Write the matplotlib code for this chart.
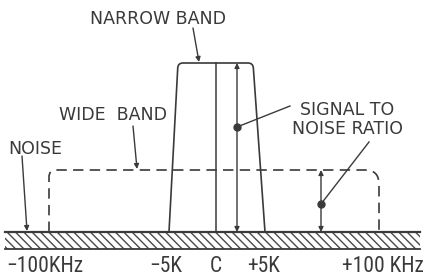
import matplotlib
matplotlib.use("Agg")
import matplotlib.pyplot as plt
import numpy as np
from matplotlib.path import Path
from matplotlib.patches import PathPatch, Rectangle
from matplotlib import font_manager

# ---- schematic data (diagram units: x = frequency position, y = signal level) ----
tick_labels = ["\u2212100KHz", "\u22125K", "C", "+5K", "+100 KHz"]
tick_pos = [-171, -50, 0, 48, 167]

noise_level = 0          # top of the noise floor
noise_depth = -17        # bottom of hatched noise band
noise_span = [-211, 204]

narrow_level = 169
narrow_bottom = [-47, 49]
narrow_top = [-38, 37]

wide_level = 62
wide_x = [-167, 163]

center_x = 0
snr_narrow_x = 21
snr_narrow_dot = 105
snr_wide_x = 105
snr_wide_dot = 28

INK = "#3a3a3a"
plt.rcParams["lines.scale_dashes"] = False
plt.rcParams["hatch.linewidth"] = 1.0

names = {f.name for f in font_manager.fontManager.ttflist}
narrow_font = None
for cand in ["Liberation Sans Narrow", "DejaVu Sans Condensed", "Roboto Condensed"]:
    if cand in names:
        narrow_font = cand
        break

fig = plt.figure(figsize=(4.25, 2.77), dpi=100)
ax = fig.add_axes([0, 0, 1, 1])
ax.set_xlim(-216, 209)
ax.set_ylim(-45, 232)
ax.axis("off")


def rounded_path(pts, radii):
    pts = [np.array(p, float) for p in pts]
    verts = [pts[0]]
    codes = [Path.MOVETO]
    for i in range(1, len(pts) - 1):
        p, prev, nxt = pts[i], pts[i - 1], pts[i + 1]
        r = radii[i]
        d1 = (p - prev) / np.linalg.norm(p - prev)
        d2 = (nxt - p) / np.linalg.norm(nxt - p)
        verts += [p - d1 * r, p, p + d2 * r]
        codes += [Path.LINETO, Path.CURVE3, Path.CURVE3]
    verts.append(pts[-1])
    codes.append(Path.LINETO)
    return Path(verts, codes)


# noise band
ax.add_patch(Rectangle((noise_span[0], noise_depth), noise_span[1] - noise_span[0],
                       noise_level - noise_depth, facecolor="white", edgecolor="#4a4a4a",
                       hatch="\\" * 4, linewidth=0, zorder=1))
ax.plot(noise_span, [noise_level] * 2, color=INK, lw=1.6, zorder=3)
ax.plot(noise_span, [noise_depth] * 2, color=INK, lw=1.3, zorder=3)

# narrow band
npath = rounded_path([(narrow_bottom[0], noise_level), (narrow_top[0], narrow_level),
                      (narrow_top[1], narrow_level), (narrow_bottom[1], noise_level)],
                     [0, 5, 5, 0])
ax.add_patch(PathPatch(npath, fill=False, edgecolor=INK, lw=1.2, zorder=4))
ax.plot([center_x, center_x], [noise_level, narrow_level], color=INK, lw=1.1, zorder=4)

# wide band (dashed)
wpath = rounded_path([(wide_x[0], noise_level), (wide_x[0], wide_level),
                      (wide_x[1], wide_level), (wide_x[1], noise_level)],
                     [0, 7, 14, 0])
ax.add_patch(PathPatch(wpath, fill=False, edgecolor=INK, lw=1.2,
                       linestyle=(0, (7.5, 4.5)), zorder=4))

arrow_kw = dict(arrowstyle="<|-|>", color=INK, lw=1.0, mutation_scale=7,
                shrinkA=0, shrinkB=0)
# SNR arrows
ax.annotate("", xy=(snr_narrow_x, narrow_level), xytext=(snr_narrow_x, noise_level),
            arrowprops=arrow_kw, zorder=5)
ax.annotate("", xy=(snr_wide_x, wide_level), xytext=(snr_wide_x, noise_level),
            arrowprops=arrow_kw, zorder=5)
ax.plot([snr_narrow_x, snr_wide_x], [snr_narrow_dot, snr_wide_dot], "o", color=INK,
        ms=5, zorder=6, linestyle="none")

# pointer lines from SNR label
ax.plot([74, snr_narrow_x], [126, snr_narrow_dot], color=INK, lw=1.0, zorder=5)
ax.plot([153, snr_wide_x], [90, snr_wide_dot], color=INK, lw=1.0, zorder=5)

lab_kw = dict(color=INK, fontsize=12.5, family="DejaVu Sans", ha="center", va="center")
ax.text(-58, 213, "NARROW BAND", **lab_kw)
ax.text(-103, 117, "WIDE  BAND", **lab_kw)
ax.text(-181, 83, "NOISE", **lab_kw)
ax.text(131, 122, "SIGNAL TO", **lab_kw)
ax.text(132, 103, "NOISE RATIO", **lab_kw)

ptr_kw = dict(arrowstyle="-|>", color=INK, lw=1.0, mutation_scale=7, shrinkA=0, shrinkB=0)
ax.annotate("", xy=(-17, narrow_level + 1), xytext=(-23, 204), arrowprops=ptr_kw, zorder=5)
ax.annotate("", xy=(-79, wide_level + 1), xytext=(-83, 106), arrowprops=ptr_kw, zorder=5)
ax.annotate("", xy=(-189, noise_level + 1), xytext=(-194, 76), arrowprops=ptr_kw, zorder=5)

# tick labels
if narrow_font:
    tk = dict(family=narrow_font, fontsize=15.5)
else:
    tk = dict(family="DejaVu Sans", fontsize=12.5)
for lab, x in zip(tick_labels, tick_pos):
    ax.text(x, -34, lab, color=INK, ha="center", va="center", **tk)

fig.savefig("out.png", dpi=100)
